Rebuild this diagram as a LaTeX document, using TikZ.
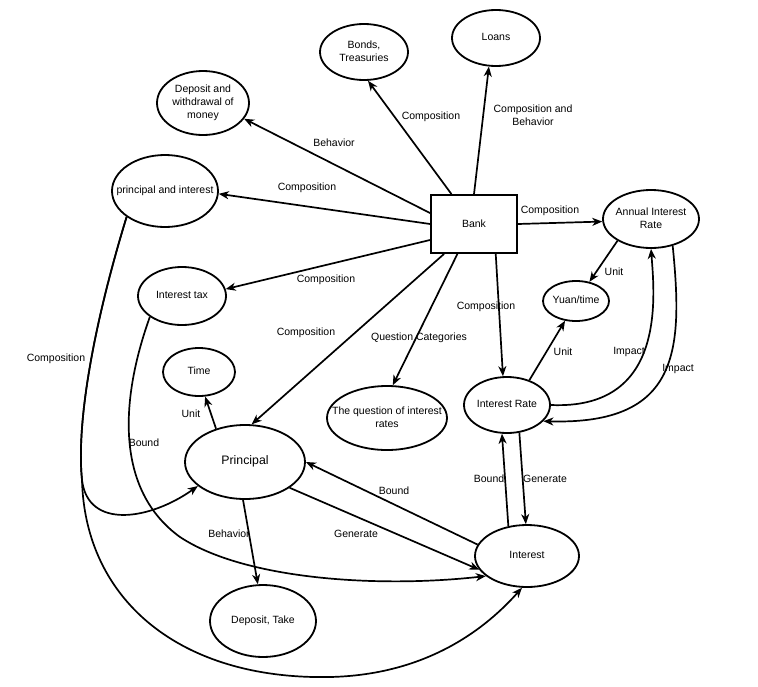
\documentclass[tikz,border=0pt]{standalone}
\usepackage{fontspec}
\setmainfont{Liberation Sans}
\usetikzlibrary{arrows.meta,shapes.geometric}
\newcommand{\ztext}[1]{\makebox[0pt]{\begin{tabular}{@{}c@{}}#1\end{tabular}}}
\tikzset{
	cpt_e/.style = {ellipse, draw=black, line width=1.8pt, inner sep=0pt},
	cpt_b/.style = {rectangle, draw=black, line width=1.8pt, inner sep=0pt,
		minimum width=86pt, minimum height=58pt},
	lbl_x/.style = {inner sep=0pt, align=center}
}

\begin{document}
\begin{tikzpicture}[x=1pt, y=-1pt, ->, >={Stealth[length=10pt,width=8pt,inset=3pt]},
	line width=1.7pt, font=\fontsize{10.5}{13}\selectfont]
\useasboundingbox (0,0) rectangle (758,686);
% concepts
\node [cpt_e, minimum width=88pt, minimum height=56pt] (bonds) at (364,52) {\ztext{Bonds,\\Treasuries}};
\node [cpt_e, minimum width=88pt, minimum height=56pt] (loans) at (496,38) {\ztext{Loans}};
\node [cpt_e, minimum width=92pt, minimum height=64pt] (depw) at (203,103) {\ztext{Deposit and\\withdrawal of\\money}};
\node [cpt_e, minimum width=106pt, minimum height=72pt] (pi) at (165,191) {\ztext{principal and interest}};
\node [cpt_b] (bank) at (474,224) {Bank};
\node [cpt_e, minimum width=96pt, minimum height=58pt] (annual) at (651,219) {\ztext{Annual Interest\\Rate}};
\node [cpt_e, minimum width=66pt, minimum height=40pt] (yuan) at (576,301) {\ztext{Yuan/time}};
\node [cpt_e, minimum width=86pt, minimum height=56pt] (irate) at (507,405) {\ztext{Interest Rate}};
\node [cpt_e, minimum width=88pt, minimum height=58pt] (itax) at (182,296) {\ztext{Interest tax}};
\node [cpt_e, minimum width=72pt, minimum height=48pt] (time) at (199,372) {\ztext{Time}};
\node [cpt_e, minimum width=120pt, minimum height=74pt, font=\fontsize{12.3}{14}\selectfont] (principal) at (245,462) {\ztext{Principal}};
\node [cpt_e, minimum width=120pt, minimum height=64pt] (question) at (387,418) {\ztext{The question of interest\\rates}};
\node [cpt_e, minimum width=106pt, minimum height=72pt] (deptake) at (263,621) {\ztext{Deposit, Take}};
\node [cpt_e, minimum width=104pt, minimum height=62pt] (interest) at (527,556) {\ztext{Interest}};

% links from the bank
\draw (bank.127) -- (bonds.-82);
\draw (bank.90) -- (loans.-104);
\draw (bank.166) -- (depw.-21);
\draw (bank.180) -- (pi.-3);
\draw (bank.0) -- (annual.183);
\draw (bank.200) -- (itax.9);
\draw (bank.225) -- (principal.80);
\draw (bank.241) -- (question.80);
\draw (bank.306) -- (irate.98);

% rates
\draw (annual.213) -- (yuan.55);
\draw (irate.48) -- (yuan.241);
\draw (irate.0) .. controls (665,410) and (655,300) .. (annual.270);
\draw (annual.-51) .. controls (683,350) and (680,425) .. (irate.-24);
\draw (interest.122) -- (irate.260);
\draw (irate.294) -- (interest.92);

% principal and interest
\draw (interest.167) -- (principal.0);
\draw (principal.-30) -- (interest.196);
\draw (principal.131) -- (time.-76);
\draw (principal.267) -- (deptake.98);
\draw (pi.214) .. controls (95,320) and (76,420) .. (82,480)
	.. controls (88,530) and (150,520) .. (principal.207);
\draw (pi.214) .. controls (95,320) and (76,420) .. (82,480)
	.. controls (85,600) and (180,680) .. (330,677)
	.. controls (420,675) and (480,635) .. (interest.261);
\draw (itax.213) .. controls (120,400) and (115,490) .. (180,537)
	.. controls (245,580) and (380,588) .. (interest.206);

% labels
\node [lbl_x] (l_bonds) at (431,117) {Composition};
\node [lbl_x] (l_loans) at (533,115) {Composition and\\Behavior};
\node [lbl_x] (l_depw) at (334,143) {Behavior};
\node [lbl_x] (l_pi) at (307,188) {Composition};
\node [lbl_x] (l_annual) at (550,211) {Composition};
\node [lbl_x] (l_itax) at (326,280) {Composition};
\node [lbl_x] (l_principal) at (306,333) {Composition};
\node [lbl_x] (l_question) at (419,338) {Question Categories};
\node [lbl_x] (l_irate) at (486,307) {Composition};
\node [lbl_x] (l_unit1) at (614,272) {Unit};
\node [lbl_x] (l_unit2) at (563,352) {Unit};
\node [lbl_x] (l_impact1) at (629,352) {Impact};
\node [lbl_x] (l_impact2) at (678,369) {Impact};
\node [lbl_x] (l_bound1) at (489,479) {Bound};
\node [lbl_x] (l_gen1) at (545,479) {Generate};
\node [lbl_x] (l_bound2) at (394,491) {Bound};
\node [lbl_x] (l_gen2) at (356,534) {Generate};
\node [lbl_x] (l_unit3) at (191,414) {Unit};
\node [lbl_x] (l_behav) at (229,534) {Behavior};
\node [lbl_x] (l_comp) at (56,359) {Composition};
\node [lbl_x] (l_bound3) at (144,443) {Bound};
\end{tikzpicture}
\end{document}
